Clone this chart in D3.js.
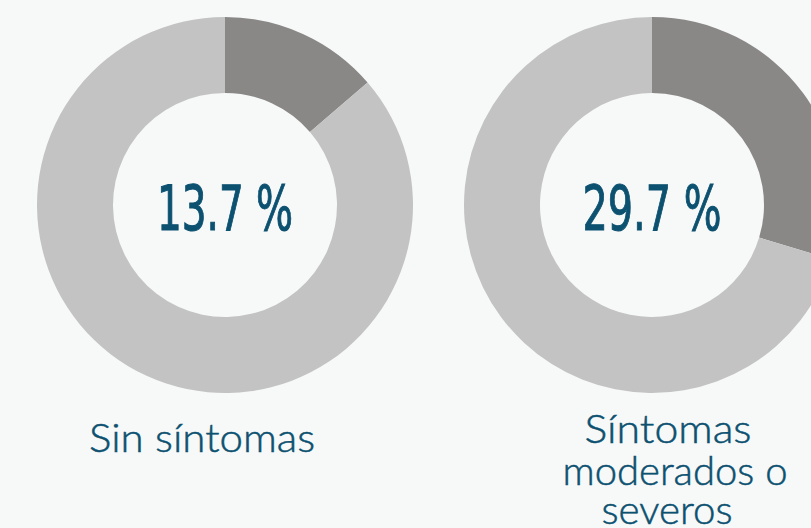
<!DOCTYPE html>
<html>
<head>
<meta charset="utf-8">
<script src="https://cdn.jsdelivr.net/npm/d3@7"></script>
<style>
  html, body { margin: 0; padding: 0; background: #f7f8f8; }
  svg { display: block; }
</style>
</head>
<body>
<svg id="chart" width="811" height="528"></svg>
<script>
// Share of patients per symptom group (percent)
const groups = ["Sin síntomas", "Síntomas moderados o severos"];
const shares = [13.7, 29.7];
const valueLabels = ["13.7 %", "29.7 %"];
// Wrapped caption lines for each group
const captionLines = [["Sin síntomas"], ["Síntomas", "moderados o", "severos"]];

const W = 811, H = 528;
const svg = d3.select("#chart");
svg.append("rect").attr("width", W).attr("height", H).attr("fill", "#f7f8f8");

const centers = d3.scalePoint().domain(groups).range([225, 652]);
const cy = 205, outerR = 188, innerR = 112;
const colors = ["#8a8886", "#c3c3c3"];
const textColor = "#0c5170";

const pie = d3.pie().sort(null).value(d => d);
const arc = d3.arc().innerRadius(innerR).outerRadius(outerR);

// caption layout: per-line center offset, width and baseline
const captionGeom = [
  [{ dx: -23, w: 226, y: 452 }],
  [{ dx: 16, w: 167, y: 443 }, { dx: 23, w: 225, y: 485 }, { dx: 15, w: 131, y: 524 }]
];

groups.forEach((g, i) => {
  const cx = centers(g);
  const grp = svg.append("g").attr("transform", `translate(${cx},${cy})`);
  grp.selectAll("path")
    .data(pie([shares[i], 100 - shares[i]]))
    .join("path")
    .attr("d", arc)
    .attr("fill", (d, j) => colors[j]);

  const widths = [136, 139];
  grp.append("text")
    .attr("x", 0).attr("y", 25)
    .attr("text-anchor", "middle")
    .attr("font-family", "'Liberation Sans Narrow', 'DejaVu Sans Condensed', Roboto, sans-serif")
    .attr("font-size", 62)
    .attr("fill", textColor)
    .attr("stroke", textColor)
    .attr("stroke-width", 1)
    .attr("textLength", widths[i])
    .attr("lengthAdjust", "spacingAndGlyphs")
    .text(valueLabels[i]);

  captionLines[i].forEach((line, k) => {
    const geo = captionGeom[i][k];
    svg.append("text")
      .attr("x", cx + geo.dx).attr("y", geo.y)
      .attr("text-anchor", "middle")
      .attr("font-family", "Lato, 'Open Sans', sans-serif")
      .attr("font-weight", 300)
      .attr("font-size", 39)
      .attr("fill", textColor)
      .attr("stroke", textColor)
      .attr("stroke-width", 0.5)
      .attr("textLength", geo.w)
      .attr("lengthAdjust", "spacingAndGlyphs")
      .text(line);
  });
});
</script>
</body>
</html>
